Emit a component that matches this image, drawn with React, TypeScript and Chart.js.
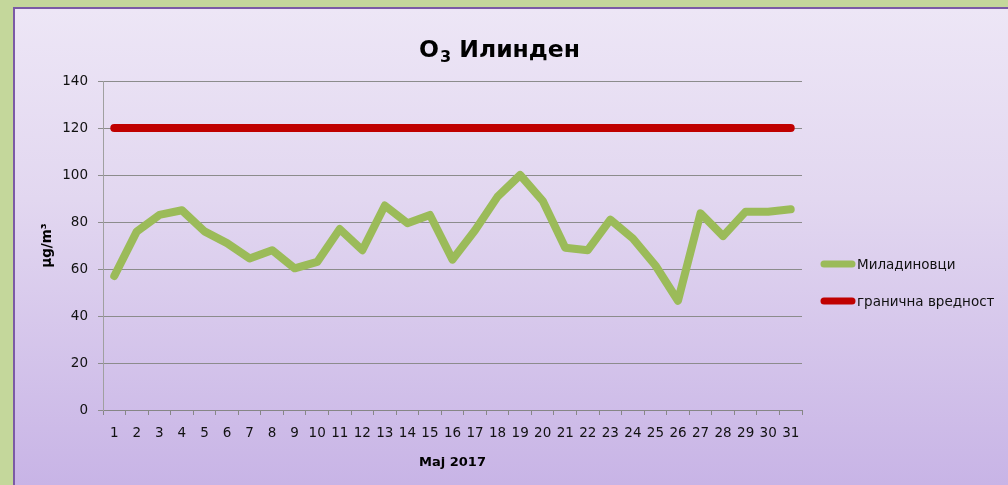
import React, { useEffect, useRef } from "react";
import { Chart, registerables } from "chart.js";

Chart.register(...registerables);

const days: string[] = Array.from({ length: 31 }, (_, i) => String(i + 1));
const miladinovci: number[] = [
  57, 76, 83, 85, 76, 71, 64.5, 68, 60.3, 63, 77, 68, 87, 79.5, 83, 64,
  76.5, 90.8, 100, 89, 69, 68, 81, 73, 61.5, 46.5, 83.7, 74, 84.4, 84.4, 85.4,
];
const limitValue = 120;
const limitSeries: number[] = days.map(() => limitValue);
const seriesLabels = ["Миладиновци", "гранична вредност"];
const seriesColors = ["#9bbb59", "#c00000"];
const yTicks = { min: 0, max: 140, step: 20 };
const titleMain = "O";
const titleSub = "3";
const titleRest = " Илинден";
const xTitle = "Мај 2017";
const yTitle = "µg/m³";

const FONT = "'DejaVu Sans', sans-serif";

const titlePlugin = {
  id: "customTitle",
  afterDraw(chart: any) {
    const ctx = chart.ctx;
    ctx.save();
    ctx.fillStyle = "#000";
    ctx.textBaseline = "alphabetic";
    ctx.textAlign = "left";
    const big = `bold 23.5px ${FONT}`;
    const small = `bold 16px ${FONT}`;
    ctx.font = big;
    const w1 = ctx.measureText(titleMain).width;
    const w3 = ctx.measureText(titleRest).width;
    ctx.font = small;
    const w2 = ctx.measureText(titleSub).width;
    const total = w1 + w2 + w3;
    let x = 499 - total / 2;
    const base = 57;
    ctx.font = big;
    ctx.fillText(titleMain, x, base);
    x += w1;
    ctx.font = small;
    ctx.fillText(titleSub, x + 1, base + 5);
    x += w2 + 1;
    ctx.font = big;
    ctx.fillText(titleRest, x, base);
    ctx.restore();
  },
};

const legendPlugin = {
  id: "customLegend",
  afterDraw(chart: any) {
    const ctx = chart.ctx;
    const ys = [264, 301];
    ctx.save();
    chart.data.datasets.forEach((ds: any, i: number) => {
      ctx.beginPath();
      ctx.strokeStyle = ds.borderColor;
      ctx.lineWidth = 7;
      ctx.lineCap = "round";
      ctx.moveTo(824, ys[i]);
      ctx.lineTo(852, ys[i]);
      ctx.stroke();
      ctx.fillStyle = "#111";
      ctx.font = `13.5px ${FONT}`;
      ctx.textAlign = "left";
      ctx.textBaseline = "middle";
      ctx.fillText(ds.label, 857, ys[i] + 1);
    });
    ctx.restore();
  },
};

export default function App() {
  const ref = useRef<HTMLCanvasElement | null>(null);
  useEffect(() => {
    if (!ref.current) return;
    const chart = new Chart(ref.current, {
      type: "line",
      data: {
        labels: days,
        datasets: [
          {
            label: seriesLabels[0],
            data: miladinovci,
            borderColor: seriesColors[0],
            backgroundColor: seriesColors[0],
            borderWidth: 8,
            pointRadius: 0,
            borderCapStyle: "round",
            borderJoinStyle: "round",
            tension: 0,
          },
          {
            label: seriesLabels[1],
            data: limitSeries,
            borderColor: seriesColors[1],
            backgroundColor: seriesColors[1],
            borderWidth: 8,
            pointRadius: 0,
            borderCapStyle: "round",
            borderJoinStyle: "round",
          },
        ],
      },
      options: {
        animation: false,
        responsive: false,
        layout: { padding: { left: 39, right: 206, top: 81, bottom: 15 } },
        plugins: {
          legend: { display: false },
          tooltip: { enabled: false },
          title: { display: false },
        },
        scales: {
          x: {
            offset: true,
            grid: {
              offset: true,
              drawOnChartArea: false,
              drawTicks: true,
              tickLength: 5,
              color: "#868686",
            },
            border: { display: true, color: "#868686", width: 1 },
            ticks: {
              color: "#111",
              font: { family: FONT, size: 13.5 },
              padding: 10,
              maxRotation: 0,
              autoSkip: false,
            },
            title: {
              display: true,
              text: xTitle,
              color: "#000",
              font: { family: FONT, size: 13, weight: "bold" },
              padding: 0,
            },
            afterFit(scale: any) {
              scale.height = 60;
            },
          },
          y: {
            min: yTicks.min,
            max: yTicks.max,
            ticks: {
              stepSize: yTicks.step,
              color: "#111",
              font: { family: FONT, size: 13.5 },
              padding: 10,
            },
            grid: {
              color: "#8c8c8c",
              tickLength: 5,
              lineWidth: 1,
            },
            border: { display: true, color: "#a0a0a0", width: 1 },
            title: {
              display: true,
              text: yTitle,
              color: "#000",
              font: { family: FONT, size: 13.5, weight: "bold" },
              padding: 0,
            },
            afterFit(scale: any) {
              scale.width = 64;
            },
          },
        },
      },
      plugins: [titlePlugin, legendPlugin],
    } as any);
    return () => chart.destroy();
  }, []);

  return (
    <div
      style={{
        position: "absolute",
        left: 0,
        top: 0,
        width: 1008,
        height: 485,
        background: "#c4d79b",
        overflow: "hidden",
      }}
    >
      <div
        style={{
          position: "absolute",
          left: 13,
          top: 7,
          width: 1008 - 13,
          height: 485 - 7,
          boxSizing: "border-box",
          borderLeft: "2px solid #7b5aa6",
          borderTop: "2px solid #7b5aa6",
          background: "linear-gradient(to bottom, #ede6f6 0%, #e2d7f0 40%, #c8b4e6 100%)",
        }}
      />
      <canvas
        ref={ref}
        width={1008}
        height={485}
        style={{ position: "absolute", left: 0, top: 0, width: 1008, height: 485 }}
      />
    </div>
  );
}
